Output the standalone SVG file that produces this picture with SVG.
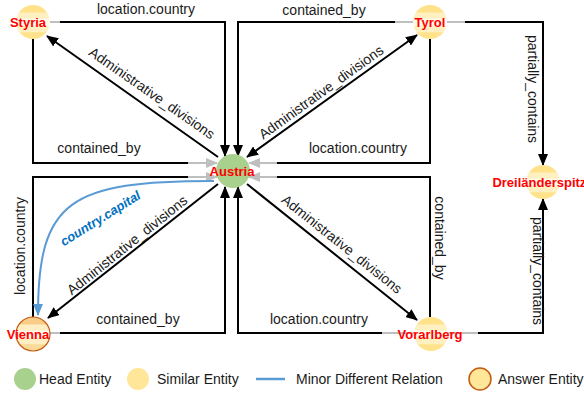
<svg xmlns="http://www.w3.org/2000/svg" width="584" height="396" viewBox="0 0 584 396">
<defs>
<linearGradient id="gy" x1="0" y1="0" x2="0" y2="1">
<stop offset="0" stop-color="#FFE28A"/><stop offset="0.2" stop-color="#FFE28A"/>
<stop offset="0.24" stop-color="#FFF0C2"/><stop offset="0.38" stop-color="#FFF0C2"/>
<stop offset="0.42" stop-color="#FFFAEA"/><stop offset="0.6" stop-color="#FFFAEA"/>
<stop offset="0.64" stop-color="#FFF0C2"/><stop offset="0.78" stop-color="#FFF0C2"/>
<stop offset="0.82" stop-color="#FFE28A"/><stop offset="1" stop-color="#FFE28A"/>
</linearGradient>
<linearGradient id="gv" x1="0" y1="0" x2="0" y2="1">
<stop offset="0" stop-color="#F9CD88"/><stop offset="0.2" stop-color="#F9CD88"/>
<stop offset="0.24" stop-color="#FFEEC4"/><stop offset="0.38" stop-color="#FFEEC4"/>
<stop offset="0.42" stop-color="#FFF8EA"/><stop offset="0.6" stop-color="#FFF8EA"/>
<stop offset="0.64" stop-color="#FFEEC4"/><stop offset="0.78" stop-color="#FFEEC4"/>
<stop offset="0.82" stop-color="#FADA96"/><stop offset="1" stop-color="#FADA96"/>
</linearGradient>
<marker id="ab" markerUnits="userSpaceOnUse" markerWidth="12" markerHeight="10" refX="11" refY="5" orient="auto-start-reverse" viewBox="0 0 12 10"><path d="M0,0 L12,5 L0,10 z" fill="#000"/></marker>
<marker id="ag" markerUnits="userSpaceOnUse" markerWidth="12" markerHeight="10" refX="11" refY="5" orient="auto" viewBox="0 0 12 10"><path d="M0,0 L12,5 L0,10 z" fill="#BFBFBF"/></marker>
<marker id="abl" markerUnits="userSpaceOnUse" markerWidth="12" markerHeight="10" refX="11" refY="5" orient="auto" viewBox="0 0 12 10"><path d="M0,0 L12,5 L0,10 z" fill="#5B9BD5"/></marker>
</defs>
<style>
.e{fill:none;stroke:#000;stroke-width:2}
.g{fill:none;stroke:#BFBFBF;stroke-width:2}
.t{font-family:"Liberation Sans",Arial,sans-serif;font-size:14px;fill:#1a1a1a}
.n{font-family:"Liberation Sans",Arial,sans-serif;font-size:13px;font-weight:bold;fill:#FF0000;text-anchor:middle}
.c{text-anchor:middle}
</style>
<g id="connectors">
<path class="g" d="M50,22 H60"/>
<path class="e" d="M60,22 H225 V156" marker-end="url(#ab)"/>
<path class="g" d="M395,22 H413"/>
<path class="e" d="M395,22 H238 V156" marker-end="url(#ab)"/>
<path class="e" d="M33,39 V163 H188"/>
<path class="g" d="M188,163 H217" marker-end="url(#ag)"/>
<path class="e" d="M430,39 V163 H277"/>
<path class="g" d="M277,163 H249" marker-end="url(#ag)"/>
<path class="e" d="M188,177 H33 V317"/>
<path class="g" d="M188,177 H217" marker-end="url(#ag)"/>
<path class="g" d="M50,333 H60"/>
<path class="e" d="M60,333 H225 V187" marker-end="url(#ab)"/>
<path class="g" d="M382,333 H416"/>
<path class="e" d="M382,333 H238 V187" marker-end="url(#ab)"/>
<path class="e" d="M430,317 V177 H277"/>
<path class="g" d="M277,177 H249" marker-end="url(#ag)"/>
<path class="g" d="M447,22 H465"/>
<path class="e" d="M465,22 H543 V165" marker-end="url(#ab)"/>
<path class="g" d="M447,333 H478"/>
<path class="e" d="M478,333 H543 V199" marker-end="url(#ab)"/>
<path class="e" d="M218,157 L47,36" marker-end="url(#ab)"/>
<path class="e" d="M247,157 L417,35" marker-start="url(#ab)" marker-end="url(#ab)"/>
<path class="e" d="M218,184 L48,318" marker-end="url(#ab)"/>
<path class="e" d="M247,184 L417,320" marker-end="url(#ab)"/>
<path d="M214,181 C70,181 38,200 38,315" fill="none" stroke="#5B9BD5" stroke-width="2" marker-end="url(#abl)"/>
<text class="t c" x="146" y="14">location.country</text>
<text class="t c" x="324" y="15">contained_by</text>
<text class="t c" x="99" y="153">contained_by</text>
<text class="t c" x="358" y="153">location.country</text>
<text class="t c" x="138" y="324">contained_by</text>
<text class="t c" x="319" y="324">location.country</text>
<text class="t c" transform="translate(25,246) rotate(-90)">location.country</text>
<text class="t c" transform="translate(435,238) rotate(90)">contained_by</text>
<text class="t c" transform="translate(528,89) rotate(90)">partially_contains</text>
<text class="t c" transform="translate(533,271) rotate(90)">partially_contains</text>
<text class="t c" transform="translate(152,93) rotate(34.8)" y="5">Administrative_divisions</text>
<text class="t c" transform="translate(321,92) rotate(-35.7)" y="5">Administrative_divisions</text>
<text class="t c" transform="translate(127,245) rotate(-38.7)" y="5">Administrative_divisions</text>
<text class="t c" transform="translate(342,244) rotate(38.5)" y="5">Administrative_divisions</text>
<text transform="translate(100,218) rotate(-32)" y="5" text-anchor="middle" font-family="Liberation Sans, Arial, sans-serif" font-size="13" font-weight="bold" font-style="italic" fill="#0070C0">country.capital</text>
</g>
<g id="austria"><circle cx="233" cy="171" r="17" fill="#A9D18E"/><text class="n" x="232" y="176">Austria</text></g>
<g id="styria"><circle cx="33" cy="22" r="17" fill="url(#gy)"/><text class="n" x="28" y="27">Styria</text></g>
<g id="tyrol"><circle cx="430" cy="22" r="17" fill="url(#gy)"/><text class="n" x="430" y="27">Tyrol</text></g>
<g id="dreilaenderspitze"><circle cx="543" cy="182" r="17" fill="url(#gy)"/><text class="n" x="543" y="187">Dreiländerspitze</text></g>
<g id="vienna"><circle cx="33" cy="334" r="17" fill="url(#gv)" stroke="#C55A11" stroke-width="1.2"/><text class="n" x="28" y="339">Vienna</text></g>
<g id="vorarlberg"><circle cx="431" cy="334" r="17" fill="url(#gy)"/><text class="n" x="430" y="339">Vorarlberg</text></g>
<g id="legend">
<circle cx="25" cy="379" r="11" fill="#A9D18E"/>
<text class="t" x="39" y="384">Head Entity</text>
<circle cx="138" cy="379" r="11" fill="#FFE699"/>
<text class="t" x="157" y="384">Similar Entity</text>
<line x1="256" y1="379" x2="285" y2="379" stroke="#5B9BD5" stroke-width="2.5"/>
<text class="t" x="296" y="384">Minor Different Relation</text>
<circle cx="480" cy="379" r="11" fill="#FFE699" stroke="#C55A11" stroke-width="1.5"/>
<text class="t" x="498" y="384">Answer Entity</text>
</g>
</svg>
